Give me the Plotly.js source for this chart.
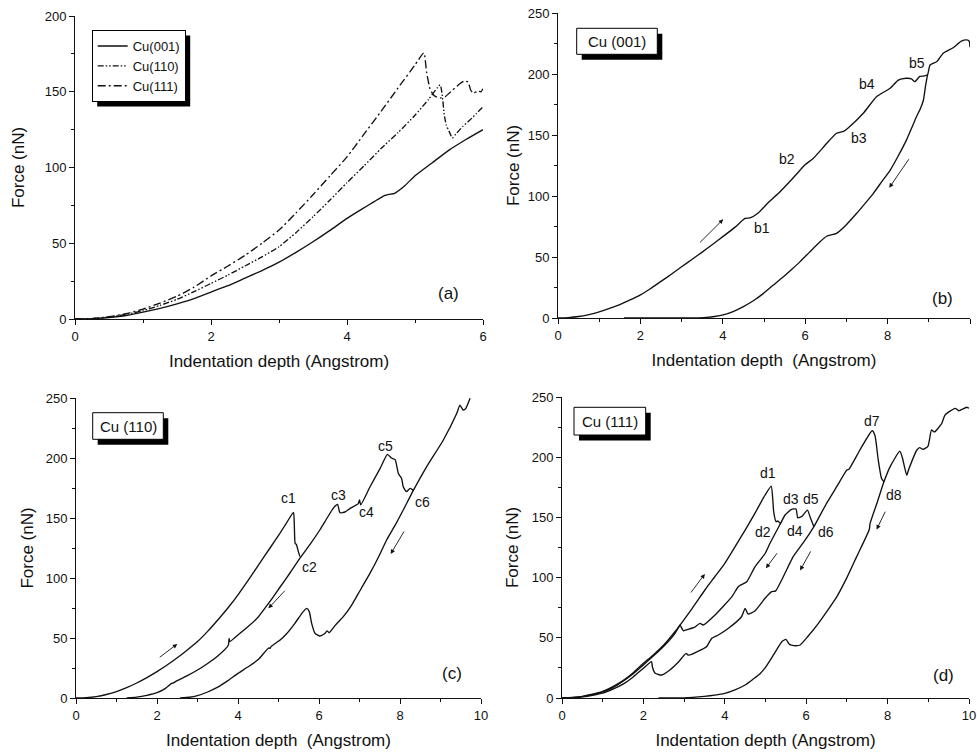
<!DOCTYPE html>
<html>
<head>
<meta charset="utf-8">
<script src="https://cdn.plot.ly/plotly-3.0.1.min.js"></script>
<style>html,body{margin:0;padding:0;background:#fff}#chart{width:977px;height:753px}</style>
</head>
<body>
<div id="chart"></div>
<script>
// ---------- Panel (a): comparison of the three surfaces ----------
const aCu001X = [0,0.25,0.5,0.75,1,1.25,1.5,1.75,2,2.25,2.5,2.75,3,3.25,3.5,3.75,4,4.2,4.4,4.55,4.62,4.7,4.85,5,5.25,5.5,5.75,6];
const aCu001Y = [0,0.2,1,2.3,4.5,7,10,13.5,17.8,22,27,32,37.5,44,51,58.5,66.4,72,77.5,81.5,82.3,83,88,94.5,103,111.5,118.5,125];
const aCu110X = [0,0.25,0.5,0.75,1,1.25,1.5,1.75,2,2.25,2.5,2.75,3,3.25,3.5,3.75,4,4.25,4.5,4.75,5,5.2,5.37,5.4,5.43,5.46,5.5,5.55,5.6,5.7,5.8,5.9,6];
const aCu110Y = [0,0.3,1.3,3,5.5,9,13,18,23.5,29,35,41,47.7,57,67.5,78.5,90,101,112.5,123,134.5,145,154.5,148,135,128,124,119.5,122,127,131,135.5,140];
const aCu111X = [0,0.25,0.5,0.75,1,1.25,1.5,1.75,2,2.25,2.5,2.75,3,3.25,3.5,3.75,4,4.25,4.5,4.75,5,5.13,5.17,5.22,5.27,5.32,5.38,5.45,5.55,5.65,5.72,5.78,5.82,5.86,5.92,5.97,6];
const aCu111Y = [0,0.3,1.5,3.5,6.5,10.5,15,21,28.4,35,42,50,58.7,70,82,94.5,107,122,137,152.5,167.7,175.6,163,152,148,146.5,146,147,151,155,157,156.5,151,149,150.5,150,152];

// ---------- Panel (b): Cu (001) ----------
const bLoadX = [0,0.25,0.5,0.75,1,1.25,1.5,1.75,2,2.25,2.5,2.75,3,3.25,3.5,3.75,4,4.3,4.54,4.66,4.86,5.1,5.39,5.7,5.99,6.2,6.52,6.76,6.93,7.05,7.41,7.73,8.06,8.26,8.45,8.58,8.66,8.78,8.9,8.97,9.03,9.19,9.35,9.59,9.79,9.92,9.98,10];
const bLoadY = [0,0.3,1.2,2.8,5,7.8,11,14.8,19,24.2,30,35.8,42,48,54,60.3,66.7,74.5,81.7,82,86,94.5,103.5,114.5,125.4,131,143,151.4,153,156,167.8,181.4,188.3,195,196.5,196,193.7,198,198.4,199.5,207.4,210,217,221.5,227,228,227,222];
const bUnloadX = [1.6,2.5,3.2,3.53,3.8,4.01,4.25,4.5,4.75,4.98,5.22,5.47,5.67,5.87,6.1,6.36,6.52,6.76,7.0,7.25,7.45,7.65,7.85,8.06,8.26,8.46,8.6,8.7,8.8,8.87,8.92,8.97];
const bUnloadY = [0,0,0,0.3,1.2,2.5,5.3,9.3,14.3,20,26.8,33.8,39.8,46,53.8,62.5,67,69.4,76.5,85.8,93.8,102,111.3,121,133,146,157,165,172,178.7,190,199.5];

// ---------- Panel (c): Cu (110) ----------
const c1X = [0,0.25,0.5,0.75,1,1.25,1.5,1.75,2,2.25,2.5,2.75,3,3.25,3.5,3.75,4,4.25,4.5,4.79,5.03,5.2,5.37,5.39,5.41,5.44,5.46,5.49,5.53];
const c1Y = [0,0.3,1.2,2.9,5.3,8.6,12.5,17,22,27.5,33.5,40,47,55.5,65,75,86,98,110.5,125,137,146,154.7,145,129,128,126,122,117.8];
const c2X = [1.25,1.5,1.75,2,2.2,2.36,2.4,2.5,2.75,3,3.25,3.5,3.76,3.78,3.8,4,4.25,4.5,4.79,5.04,5.3,5.53,5.8,6.02,6.2,6.35,6.42,6.46,6.5,6.52,6.64,6.77,6.97,7.0,7.03,7.26,7.51,7.69,7.79,7.88,7.96,8.04,8.08,8.16,8.25,8.33];
const c2Y = [0,0.7,2.2,4.4,7.8,12.2,12.5,14.5,18.6,23.3,28.8,35,44,49.7,47,52.5,59.5,67.5,80.5,92.5,105,116.5,129,140,150,158,160.6,161.4,156,154.4,155,158,162,165,161,176,191.4,203,200,198.6,187,183,176,172,174.7,173];
const c3X = [2.57,2.8,3,3.25,3.5,3.75,4,4.25,4.5,4.76,4.79,4.82,5.04,5.2,5.4,5.61,5.7,5.76,5.82,5.9,6.02,6.15,6.2,6.25,6.4,6.6,6.8,6.97,7.26,7.47,7.67,7.88,8.08,8.33,8.66,9.07,9.4,9.48,9.56,9.62,9.73];
const c3Y = [0,0.6,2,5,9,14.5,20.5,26,32,41.8,41.4,43,48.3,53.5,62,72,74.7,72,62,54,51.7,54,56,54.4,60.5,67.8,77,87,104,117.5,131.7,144,156.7,173,192.8,215,237,244,240,241,249.7];

// ---------- Panel (d): Cu (111) ----------
const d1X = [0,0.25,0.5,0.75,1,1.25,1.5,1.75,2,2.25,2.5,2.75,2.9,3.2,3.51,3.75,4,4.25,4.5,4.75,4.99,5.14,5.18,5.2,5.26,5.3,5.37];
const d1Y = [0,0.4,1.4,3.1,5.5,9.5,14.5,21,28.8,36,44,54,60.6,74.5,89.7,100.5,111.9,125.5,139.5,154,168.6,176,164.5,155,146.4,147,145];
const d2X = [0,0.25,0.5,0.75,1,1.25,1.5,1.75,2,2.25,2.5,2.75,2.87,2.9,2.98,3.1,3.25,3.39,3.47,3.76,4.17,4.33,4.4,4.54,4.74,4.99,5.11,5.37,5.48,5.64,5.75,5.79,5.84,5.9,6.03,6.1,6.19];
const d2Y = [0,0.3,1.2,2.8,5,8.7,14,20.2,27.5,35,43,52.5,59,60.6,55.9,57,58.6,62,60.6,69,84,92.4,94,96.6,109,120,128.5,145,152,156.7,157,149.8,150,151,156,150,142.3];
const d3X = [0,0.25,0.5,0.75,1,1.25,1.5,1.75,2,2.2,2.22,2.29,2.45,2.65,2.85,3.05,3.1,3.2,3.55,3.68,3.84,4.09,4.41,4.5,4.57,4.73,4.99,5.15,5.25,5.68,5.95,6.19,6.5,6.75,7.0,7.05,7.32,7.62,7.69,7.77,7.85,7.91];
const d3Y = [0,0.2,1,2.3,4,7.3,11.5,17.5,24.7,30.2,26,20.5,19.1,23.3,29.5,37,35.7,36.5,42.6,49.6,52.3,57.9,67.5,74.5,69.8,72,82.8,88.3,89,117.4,130,142.3,161.7,175.5,189.4,190,206,222,218,197.7,182.5,179.6];
const d4X = [2.37,3,3.5,3.75,4,4.25,4.5,4.7,4.86,4.99,5.2,5.4,5.5,5.59,5.7,5.85,6.05,6.3,6.5,6.75,7.0,7.24,7.55,7.57,7.75,7.91,8.06,8.3,8.36,8.47,8.52,8.72,8.79,8.87,8.99,9.08,9.15,9.33,9.41,9.66,9.75,9.94,10];
const d4Y = [0,0.1,1.4,2.4,3.9,6.8,10.8,15.8,20,25,36,46.8,48.7,44.5,43.5,44,51.5,62,71.5,84,100,117.4,140,145,163,179.6,192,205,200,185,190,206,208,206.5,209,222.6,221,228,235,240.6,238.6,241.5,240.7];

// ---------- Text ----------
const legendNames = ['Cu(001)','Cu(110)','Cu(111)'];
const boxTexts = ['Cu (001)','Cu (110)','Cu (111)'];
const panelTags = ['(a)','(b)','(c)','(d)'];
const xTitles = ['Indentation depth (Angstrom)','Indentation depth \u00A0(Angstrom)','Indentation depth \u00A0(Angstrom)','Indentation depth (Angstrom)'];
const yTitle = 'Force (nN)';
const bLabels = [['b1',4.94,73.5],['b2',5.55,130],['b3',7.3,147.7],['b4',7.49,192],['b5',8.72,208.7]];
const cLabels = [['c1',5.24,167],['c2',5.76,109],['c3',6.48,169],['c4',7.18,154.7],['c5',7.65,210],['c6',8.56,163]];
const dLabels = [['d1',5.07,186.6],['d2',4.95,137.6],['d3',5.62,165.3],['d4',5.72,139],['d5',6.13,165.3],['d6',6.49,138],['d7',7.62,230.3],['d8',8.16,169]];
// arrows: [tailX, tailY, headX, headY]
const bArrows = [[3.41,60.7,4.01,80.9],[8.54,131.4,8.04,106.8]];
const cArrows = [[2.03,33,2.5,45],[5.19,90.6,4.75,74.7],[8.12,140,7.77,120]];
const dArrows = [[3.14,86.4,3.51,103],[5.31,121.5,5.01,107.7],[6.13,123,5.85,106],[7.96,156,7.73,140]];

// ---------- Build ----------
const W = 977, H = 753;
const FONT = 'Liberation Sans, Arial, Helvetica, sans-serif';
const INK = '#111';
const px = p => p / W;
const py = p => 1 - p / H;

const line = (x, y, xa, ya, extra) => Object.assign({
  x, y, xaxis: xa, yaxis: ya, type: 'scatter', mode: 'lines',
  line: {color: INK, width: 1.35, shape: 'spline', smoothing: 0.5}, showlegend: false, hoverinfo: 'skip'
}, extra || {});

const data = [
  line(aCu001X, aCu001Y, 'x', 'y', {name: legendNames[0], showlegend: true}),
  line(aCu110X, aCu110Y, 'x', 'y', {name: legendNames[1], showlegend: true, line: {color: INK, width: 1.35, shape: 'spline', smoothing: 0.5, dash: '6px,2px,1.5px,2px,1.5px,2px'}}),
  line(aCu111X, aCu111Y, 'x', 'y', {name: legendNames[2], showlegend: true, line: {color: INK, width: 1.35, shape: 'spline', smoothing: 0.5, dash: '8px,3px,2px,3px'}}),
  line(bLoadX, bLoadY, 'x2', 'y2'),
  line(bUnloadX, bUnloadY, 'x2', 'y2'),
  line(c1X, c1Y, 'x3', 'y3'),
  line(c2X, c2Y, 'x3', 'y3'),
  line(c3X, c3Y, 'x3', 'y3'),
  line(d1X, d1Y, 'x4', 'y4'),
  line(d2X, d2Y, 'x4', 'y4'),
  line(d3X, d3Y, 'x4', 'y4'),
  line(d4X, d4Y, 'x4', 'y4')
];

// panel pixel boxes: [left, right, top, bottom]
const boxes = [[75,483,16,319],[558,970,13,318],[76,481,398,698],[562,969,397,698]];
const xRanges = [[0,6],[0,10],[0,10],[0,10]];
const yRanges = [[0,200],[0,250],[0,250],[0,250]];
const yStandoff = [15, 3, 7, 8];

const tickfont = {family: FONT, size: 13, color: INK};
const layout = {
  width: W, height: H,
  margin: {l: 0, r: 0, t: 0, b: 0, pad: 0},
  paper_bgcolor: '#fff', plot_bgcolor: '#fff',
  font: {family: FONT, color: INK},
  showlegend: true,
  legend: {
    x: px(91.7), y: py(30), xanchor: 'left', yanchor: 'top',
    bgcolor: '#fff', bordercolor: '#000', borderwidth: 1,
    font: {family: FONT, size: 13, color: INK}, tracegroupgap: 0
  },
  annotations: [], shapes: []
};

for (let i = 0; i < 4; i++) {
  const n = i + 1, sfx = n === 1 ? '' : String(n);
  const [l, r, t, b] = boxes[i];
  const xd = [px(l), px(r)], yd = [py(b), py(t)];
  layout['xaxis' + sfx] = {
    domain: xd, range: xRanges[i], anchor: 'y' + sfx, automargin: false,
    showline: true, linecolor: INK, linewidth: 1, mirror: false,
    ticks: 'outside', ticklen: 5, tickwidth: 1, tickcolor: INK,
    tick0: 0, dtick: 2, minor: {dtick: 1, ticks: 'outside', ticklen: 3, tickcolor: INK, tickwidth: 1, showgrid: false},
    showgrid: false, zeroline: false, tickfont,
    title: {text: xTitles[i], font: {family: FONT, size: 17, color: INK}, standoff: 12}
  };
  layout['yaxis' + sfx] = {
    domain: yd, range: yRanges[i], anchor: 'x' + sfx, automargin: false,
    showline: true, linecolor: INK, linewidth: 1,
    ticks: 'outside', ticklen: 5, tickwidth: 1, tickcolor: INK,
    tick0: 0, dtick: 50, minor: {dtick: 25, ticks: 'outside', ticklen: 3, tickcolor: INK, tickwidth: 1, showgrid: false},
    showgrid: false, zeroline: false, tickfont,
    title: {text: yTitle, font: {family: FONT, size: 17, color: INK}, standoff: yStandoff[i]}
  };
  // top & right frame with inward ticks
  layout['xaxis' + (n + 4)] = {
    overlaying: 'x' + sfx, side: 'top', anchor: 'y' + sfx, range: xRanges[i], automargin: false,
    showline: true, linecolor: INK, linewidth: 1, ticks: 'inside', ticklen: 4, tickcolor: INK,
    tick0: 0, dtick: 1, showticklabels: false, showgrid: false, zeroline: false
  };
  layout['yaxis' + (n + 4)] = {
    overlaying: 'y' + sfx, side: 'right', anchor: 'x' + sfx, range: yRanges[i], automargin: false,
    showline: true, linecolor: INK, linewidth: 1, ticks: 'inside', ticklen: 4, tickcolor: INK,
    tick0: 0, dtick: 25, showticklabels: false, showgrid: false, zeroline: false
  };
}

// panel tags
const tagPos = [[5.49,17],[9.33,15.6],[9.28,20.6],[9.37,19]];
for (let i = 0; i < 4; i++) {
  const sfx = i === 0 ? '' : String(i + 1);
  layout.annotations.push({
    text: panelTags[i], x: tagPos[i][0], y: tagPos[i][1], xref: 'x' + sfx, yref: 'y' + sfx,
    xanchor: 'center', yanchor: 'middle',
    showarrow: false, font: {family: FONT, size: 17, color: INK}
  });
}
// point labels
[[bLabels,'2'],[cLabels,'3'],[dLabels,'4']].forEach(([labs, s]) => {
  labs.forEach(([t, x, y]) => layout.annotations.push({
    text: t, x, y, xref: 'x' + s, yref: 'y' + s, showarrow: false,
    xanchor: 'center', yanchor: 'middle',
    font: {family: FONT, size: 14, color: INK}
  }));
});
// arrows
[[bArrows,'2'],[cArrows,'3'],[dArrows,'4']].forEach(([arr, s]) => {
  arr.forEach(([x0, y0, x1, y1]) => layout.annotations.push({
    text: '', x: x1, y: y1, ax: x0, ay: y0, xref: 'x' + s, yref: 'y' + s, axref: 'x' + s, ayref: 'y' + s,
    showarrow: true, arrowhead: 2, arrowsize: 1, arrowwidth: 0.9, arrowcolor: INK, standoff: 0
  }));
});
// label boxes with drop shadows (pixel boxes: left, top, right, bottom)
const labelBoxes = [[576.7,28.3,657.3,54.3],[92.7,412.7,163.3,439.3],[574,407.3,645.7,435]];
labelBoxes.forEach(([l, t, r, b], k) => {
  layout.shapes.push({type: 'rect', xref: 'paper', yref: 'paper', x0: px(l + 5), x1: px(r + 5), y0: py(b + 5.5), y1: py(t + 5.5), fillcolor: '#000', line: {width: 0}, layer: 'above'});
  layout.shapes.push({type: 'rect', xref: 'paper', yref: 'paper', x0: px(l), x1: px(r), y0: py(b), y1: py(t), fillcolor: '#fff', line: {color: '#000', width: 1}, layer: 'above'});
  layout.annotations.push({text: boxTexts[k], xref: 'paper', yref: 'paper', x: px((l + r) / 2), y: py((t + b) / 2),
    xanchor: 'center', yanchor: 'middle', showarrow: false, font: {family: FONT, size: 15, color: INK}});
});

Plotly.newPlot('chart', data, layout, {staticPlot: true, displayModeBar: false}).then(gd => {
  const bg = gd.querySelector('.legend .bg');
  if (!bg) return;
  const r = bg.getBoundingClientRect(), g = gd.getBoundingClientRect();
  const l = r.left - g.left, t = r.top - g.top, rr = r.right - g.left, bb = r.bottom - g.top;
  const shapes = layout.shapes.concat([{type: 'rect', xref: 'paper', yref: 'paper', x0: px(l + 5), x1: px(rr + 5), y0: py(bb + 5), y1: py(t + 5), fillcolor: '#000', line: {width: 0}, layer: 'above'}]);
  return Plotly.relayout(gd, {shapes});
});
</script>
</body>
</html>
